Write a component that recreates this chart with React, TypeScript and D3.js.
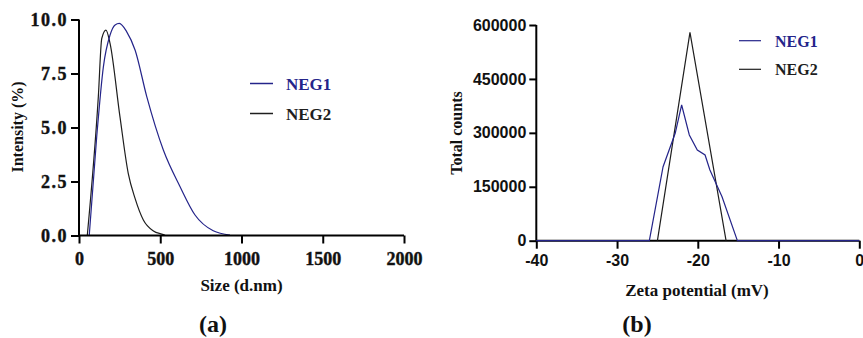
import React, { useEffect, useRef } from 'react';
import * as d3 from 'd3';

// (a) size distribution by intensity
const sizeNeg1 = [63, 109, 150, 191, 222, 248, 293, 345, 417, 519, 622, 714, 826, 929];
const intNeg1 = [0, 4.57, 7.81, 9.28, 9.75, 9.82, 9.44, 8.59, 6.43, 3.96, 2.26, 0.95, 0.22, 0.02];
const sizeNeg2 = [51, 119, 140, 166, 191, 252, 303, 345, 396, 458, 519, 530];
const intNeg2 = [0, 6.43, 9.12, 9.51, 8.9, 5.5, 2.88, 1.72, 0.72, 0.21, 0.04, 0];
const sizeTicks = [0, 500, 1000, 1500, 2000];
const intTicks = [0, 2.5, 5, 7.5, 10];

// (b) zeta potential distribution
const zetaNeg1 = [-40, -26.0, -24.3, -22.8, -22.0, -21.05, -20.06, -19.1, -18.5, -17.0, -15.1, 0];
const countNeg1 = [0, 0, 205800, 298700, 377500, 294000, 252300, 238400, 196700, 122400, 0, 0];
const zetaNeg2 = [-25.0, -20.97, -16.5];
const countNeg2 = [0, 579700, 0];
const zetaTicks = [-40, -30, -20, -10, 0];
const countTicks = [0, 150000, 300000, 450000, 600000];

const seriesNames = ['NEG1', 'NEG2'];
const seriesColors = ['#24248a', '#1e1e1e'];

const serif = '"Liberation Serif", "Times New Roman", serif';
const sans = '"Liberation Sans", Arial, sans-serif';

export default function App() {
  const svgRef = useRef<SVGSVGElement>(null);

  useEffect(() => {
    const svg = d3.select(svgRef.current);
    svg.selectAll('*').remove();

    // ---------- panel (a) ----------
    const xa = d3.scaleLinear().domain([0, 2000]).range([79, 404]);
    const ya = d3.scaleLinear().domain([0, 10]).range([235.5, 19.5]);
    const ga = svg.append('g');

    const lineA = d3.line<[number, number]>()
      .x(d => xa(d[0])).y(d => ya(d[1]))
      .curve(d3.curveMonotoneX);
    ga.append('path')
      .datum(d3.zip(sizeNeg2, intNeg2) as [number, number][])
      .attr('fill', 'none').attr('stroke', seriesColors[1]).attr('stroke-width', 1.2)
      .attr('d', lineA);
    ga.append('path')
      .datum(d3.zip(sizeNeg1, intNeg1) as [number, number][])
      .attr('fill', 'none').attr('stroke', seriesColors[0]).attr('stroke-width', 1.2)
      .attr('d', lineA);

    const axXa = ga.append('g').attr('transform', `translate(0,${ya(0)})`)
      .call(d3.axisBottom(xa).tickValues(sizeTicks).tickSize(8).tickPadding(9).tickFormat(d => String(d)));
    const axYa = ga.append('g').attr('transform', `translate(${xa(0)},0)`)
      .call(d3.axisLeft(ya).tickValues(intTicks).tickSize(8).tickPadding(3).tickFormat(d3.format('.1f')));
    [axXa, axYa].forEach(ax => {
      ax.attr('font-family', serif);
      ax.select('.domain').attr('stroke', '#000').attr('stroke-width', 2);
      ax.selectAll('.tick line').attr('stroke', '#000').attr('stroke-width', 2);
      ax.selectAll('.tick text').attr('fill', '#111').attr('stroke', '#111').attr('stroke-width', 0.4)
        .style('font-family', serif).style('font-weight', 'bold').style('font-size', '18px');
    });
    axYa.selectAll('.tick text').style('letter-spacing', '1.5px');
    axXa.select('.domain').attr('d', `M${xa(0)},0H${xa(2000)}`);
    axYa.select('.domain').attr('d', `M0,${ya(0)}V${ya(10)}`);

    ga.append('text').attr('x', 241.5).attr('y', 291).attr('text-anchor', 'middle')
      .style('font-family', serif).style('font-weight', 'bold').style('font-size', '17px')
      .attr('fill', '#111').text('Size (d.nm)');
    ga.append('text').attr('transform', 'translate(23,127) rotate(-90)').attr('text-anchor', 'middle')
      .style('font-family', serif).style('font-weight', 'bold').style('font-size', '16px')
      .attr('fill', '#111').text('Intensity (%)');
    ga.append('text').attr('x', 213).attr('y', 332).attr('text-anchor', 'middle')
      .style('font-family', serif).style('font-weight', 'bold').style('font-size', '24px')
      .attr('fill', '#111').text('(a)');

    seriesNames.forEach((name, i) => {
      const y = 83.5 + i * 30;
      ga.append('line').attr('x1', 250).attr('x2', 273).attr('y1', y).attr('y2', y)
        .attr('stroke', seriesColors[i]).attr('stroke-width', 1.5);
      ga.append('text').attr('x', 286).attr('y', y + 6)
        .style('font-family', serif).style('font-weight', 'bold').style('font-size', '17px')
        .attr('fill', seriesColors[i]).text(name);
    });

    // ---------- panel (b) ----------
    const xb = d3.scaleLinear().domain([-40, 0]).range([536.3, 859.3]);
    const yb = d3.scaleLinear().domain([0, 600000]).range([240.7, 25]);
    const gb = svg.append('g');

    const axXb = gb.append('g').attr('transform', `translate(0,${yb(0)})`)
      .call(d3.axisBottom(xb).tickValues(zetaTicks).tickSize(8).tickPadding(6).tickFormat(d => String(d)));
    const axYb = gb.append('g').attr('transform', `translate(${xb(-40)},0)`)
      .call(d3.axisLeft(yb).tickValues(countTicks).tickSize(7).tickPadding(3).tickFormat(d => String(d)));
    [axXb, axYb].forEach(ax => {
      ax.select('.domain').attr('stroke', '#000').attr('stroke-width', 2);
      ax.selectAll('.tick line').attr('stroke', '#000').attr('stroke-width', 2);
      ax.selectAll('.tick text').attr('fill', '#111')
        .style('font-family', sans).style('font-weight', 'bold').style('font-size', '16px');
    });
    axXb.select('.domain').attr('d', `M${xb(-40)},0H${xb(0)}`);
    axYb.select('.domain').attr('d', `M0,${yb(0)}V${yb(600000)}`);

    const lineB = d3.line<[number, number]>().x(d => xb(d[0])).y(d => yb(d[1]));
    gb.append('path')
      .datum(d3.zip(zetaNeg2, countNeg2) as [number, number][])
      .attr('fill', 'none').attr('stroke', seriesColors[1]).attr('stroke-width', 1.2)
      .attr('d', lineB);
    gb.append('path')
      .datum(d3.zip(zetaNeg1, countNeg1) as [number, number][])
      .attr('fill', 'none').attr('stroke', seriesColors[0]).attr('stroke-width', 1.2)
      .attr('d', lineB);

    gb.append('text').attr('x', 697).attr('y', 296).attr('text-anchor', 'middle')
      .style('font-family', serif).style('font-weight', 'bold').style('font-size', '17px')
      .attr('fill', '#111').text('Zeta potential (mV)');
    gb.append('text').attr('transform', 'translate(462,133) rotate(-90)').attr('text-anchor', 'middle')
      .style('font-family', serif).style('font-weight', 'bold').style('font-size', '16px')
      .attr('fill', '#111').text('Total counts');
    gb.append('text').attr('x', 637).attr('y', 332).attr('text-anchor', 'middle')
      .style('font-family', serif).style('font-weight', 'bold').style('font-size', '24px')
      .attr('fill', '#111').text('(b)');

    seriesNames.forEach((name, i) => {
      const y = 40.7 + i * 28.6;
      gb.append('line').attr('x1', 739).attr('x2', 761).attr('y1', y).attr('y2', y)
        .attr('stroke', seriesColors[i]).attr('stroke-width', 1.2);
      gb.append('text').attr('x', 775).attr('y', y + 6)
        .style('font-family', serif).style('font-weight', 'bold').style('font-size', '16px')
        .attr('fill', seriesColors[i]).text(name);
    });
  }, []);

  return (
    <svg
      ref={svgRef}
      width={863}
      height={338}
      style={{ position: 'absolute', left: 0, top: 0, background: '#fff' }}
    />
  );
}
